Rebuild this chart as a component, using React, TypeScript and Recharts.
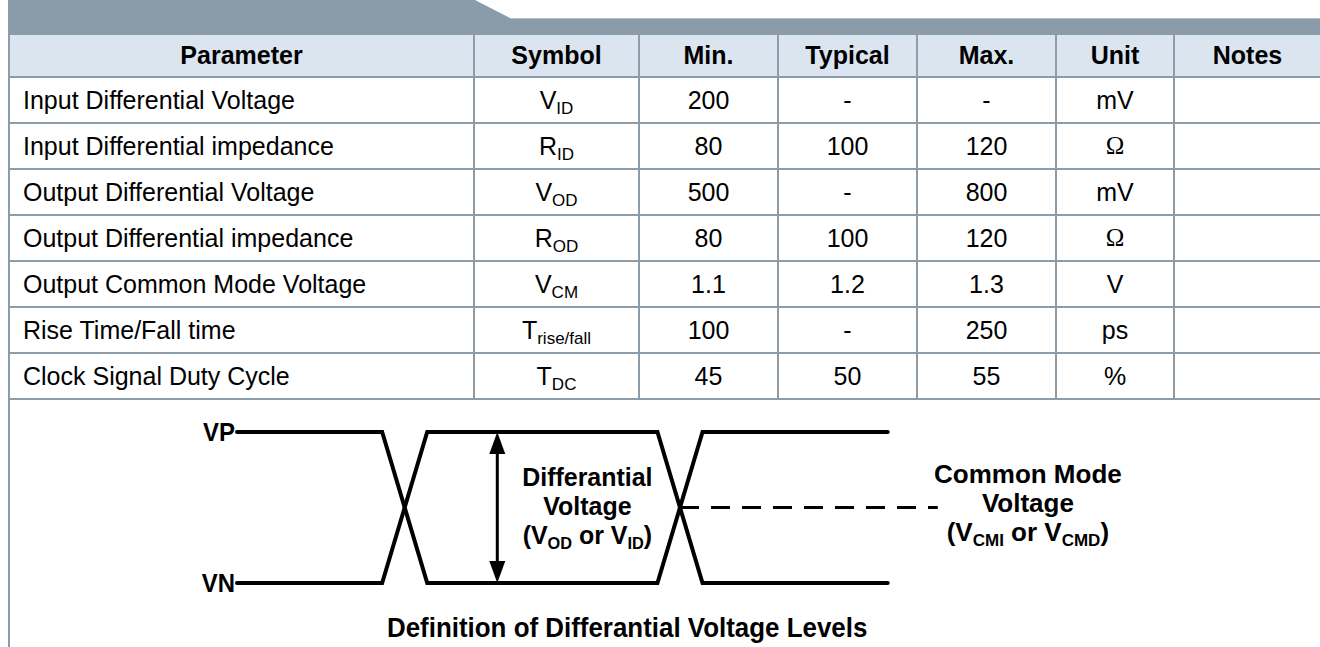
import React from 'react';
import { LineChart, Line, XAxis, YAxis, ReferenceLine, ReferenceDot } from 'recharts';

// table contents
const columns = ['Parameter', 'Symbol', 'Min.', 'Typical', 'Max.', 'Unit', 'Notes'];
const parameters = [
  'Input Differential Voltage',
  'Input Differential impedance',
  'Output Differential Voltage',
  'Output Differential impedance',
  'Output Common Mode Voltage',
  'Rise Time/Fall time',
  'Clock Signal Duty Cycle',
];
const symbolBase = ['V', 'R', 'V', 'R', 'V', 'T', 'T'];
const symbolSub = ['ID', 'ID', 'OD', 'OD', 'CM', 'rise/fall', 'DC'];
const minValues = ['200', '80', '500', '80', '1.1', '100', '45'];
const typValues = ['-', '100', '-', '100', '1.2', '-', '50'];
const maxValues = ['-', '120', '800', '120', '1.3', '250', '55'];
const units = ['mV', 'Ω', 'mV', 'Ω', 'V', 'ps', '%'];
const notes = ['', '', '', '', '', '', ''];

// waveform: time (arbitrary units) and normalised level (1 = high, 0 = low)
const edgeTimes = [0, 29, 38, 84, 93, 130];
const vpLevels = [1, 1, 0, 0, 1, 1];
const vnLevels = [0, 0, 1, 1, 0, 0];
const commonModeLevel = 0.5;
const commonModeSpan = [88.5, 140];
const arrowTime = 52;

const colEdges = [8, 473, 638, 777, 916, 1055, 1173, 1320];
const headerTop = 35;
const headerBottom = 76;
const rowH = 46;
const lineColor = '#8b9cab';
const sans = '"Liberation Sans", Arial, sans-serif';

const waveData = edgeTimes.map((t, i) => ({ t, vp: vpLevels[i], vn: vnLevels[i] }));

const ArrowShape = (props: any) => {
  const { x1, y1, y2 } = props;
  const top = Math.min(y1, y2);
  const bot = Math.max(y1, y2);
  const head = 22;
  const half = 8;
  return (
    <g>
      <line x1={x1} y1={top + head - 2} x2={x1} y2={bot - head + 2} stroke="#000" strokeWidth={3} />
      <polygon points={`${x1},${top} ${x1 - half},${top + head} ${x1 + half},${top + head}`} fill="#000" />
      <polygon points={`${x1},${bot} ${x1 - half},${bot - head} ${x1 + half},${bot - head}`} fill="#000" />
    </g>
  );
};

// condensed bold lettering used in the diagram
const MultiLabel = (props: any) => {
  const { viewBox, lines, size = 26, anchor = 'middle', dx = 0, squeeze = 0.95 } = props;
  const cx = viewBox.x + (viewBox.width || 0) / 2 + dx;
  const cy = viewBox.y + (viewBox.height || 0) / 2;
  const gap = 29;
  return (
    <g transform={`translate(${cx},0) scale(${squeeze},1) translate(${-cx},0)`}>
      {lines.map((ln: any[], i: number) => (
        <text
          key={i}
          x={cx}
          y={cy + (i - (lines.length - 1) / 2) * gap + size * 0.35}
          textAnchor={anchor}
          fontFamily={sans}
          fontWeight="bold"
          fontSize={size}
          fill="#000"
        >
          {ln.map((part, j) =>
            part.sub ? (
              <tspan key={j} fontSize={Math.round(size * 0.66)} dy={5}>{part.text}</tspan>
            ) : (
              <tspan key={j} dy={j > 0 && ln[j - 1].sub ? -5 : 0}>{part.text}</tspan>
            )
          )}
        </text>
      ))}
    </g>
  );
};

const diffLines = [
  [{ text: 'Differantial' }],
  [{ text: 'Voltage' }],
  [{ text: '(V' }, { text: 'OD', sub: true }, { text: ' or V' }, { text: 'ID', sub: true }, { text: ')' }],
];
const cmLines = [
  [{ text: 'Common Mode' }],
  [{ text: 'Voltage' }],
  [{ text: '(V' }, { text: 'CMI', sub: true }, { text: ' or V' }, { text: 'CMD', sub: true }, { text: ')' }],
];

function Cell({ col, top, height, children, bold, left }: any) {
  const x0 = colEdges[col] + 2;
  const x1 = colEdges[col + 1];
  return (
    <div
      style={{
        position: 'absolute',
        left: x0,
        top,
        width: x1 - x0,
        height,
        display: 'flex',
        alignItems: 'center',
        justifyContent: left ? 'flex-start' : 'center',
        paddingLeft: left ? 13 : 0,
        boxSizing: 'border-box',
        fontWeight: bold ? 'bold' : 'normal',
        fontSize: 25,
        whiteSpace: 'nowrap',
        color: '#000',
      }}
    >
      {children}
    </div>
  );
}

export default function App() {
  const tableBottom = headerBottom + rowH * parameters.length;
  const rows = parameters.map((p, i) => [
    p,
    <span key="s">
      {symbolBase[i]}
      <span style={{ fontSize: 17, position: 'relative', top: 5 }}>{symbolSub[i]}</span>
    </span>,
    minValues[i],
    typValues[i],
    maxValues[i],
    units[i] === 'Ω' ? <span key="u" style={{ fontFamily: '"Liberation Serif", serif' }}>{units[i]}</span> : units[i],
    notes[i],
  ]);
  const capX = 387;

  return (
    <div style={{ position: 'relative', width: 1320, height: 647, background: '#fff', fontFamily: sans, overflow: 'hidden' }}>
      <style>{'body{margin:0}'}</style>
      <svg width={1320} height={40} style={{ position: 'absolute', left: 0, top: 0 }}>
        <polygon points="8,0 475,0 510,18 1320,18 1320,35 8,35" fill="#8a9baa" />
        <line x1={510} y1={18.5} x2={1320} y2={18.5} stroke="#b3bfc9" strokeWidth={1} />
      </svg>
      <div style={{ position: 'absolute', left: 10, top: headerTop, width: 1310, height: headerBottom - headerTop, background: '#dbe5f0' }} />
      {columns.map((c, i) => (
        <Cell key={c} col={i} top={headerTop} height={headerBottom - headerTop} bold>
          {c}
        </Cell>
      ))}
      {rows.map((r, ri) =>
        r.map((v, ci) => (
          <Cell key={`${ri}-${ci}`} col={ci} top={headerBottom + 2 + ri * rowH} height={rowH - 2} left={ci === 0}>
            {v}
          </Cell>
        ))
      )}
      {parameters.map((_, i) => (
        <div key={`h${i}`} style={{ position: 'absolute', left: 8, top: headerBottom + i * rowH, width: 1312, height: 2, background: lineColor }} />
      ))}
      <div style={{ position: 'absolute', left: 8, top: tableBottom, width: 1312, height: 2, background: lineColor }} />
      {colEdges.slice(1, -1).map((x) => (
        <div key={`v${x}`} style={{ position: 'absolute', left: x, top: headerTop, width: 2, height: tableBottom - headerTop + 2, background: lineColor }} />
      ))}
      <div style={{ position: 'absolute', left: 8, top: headerTop, width: 2, height: 647 - headerTop, background: lineColor }} />

      <div style={{ position: 'absolute', left: 0, top: 400 }}>
        <LineChart width={1320} height={247} data={waveData} margin={{ top: 32, right: 182, bottom: 64, left: 237 }}>
          <XAxis dataKey="t" type="number" domain={[0, 180]} hide />
          <YAxis type="number" domain={[0, 1]} hide />
          <Line type="linear" dataKey="vp" stroke="#000" strokeWidth={4} dot={false} strokeLinecap="round" isAnimationActive={false} />
          <Line type="linear" dataKey="vn" stroke="#000" strokeWidth={4} dot={false} strokeLinecap="round" isAnimationActive={false} />
          <ReferenceLine
            segment={[{ x: commonModeSpan[0], y: commonModeLevel }, { x: commonModeSpan[1], y: commonModeLevel }]}
            stroke="#000"
            strokeWidth={3}
            strokeDasharray="19 12"
          />
          <ReferenceLine segment={[{ x: arrowTime, y: 0 }, { x: arrowTime, y: 1 }]} shape={ArrowShape} />
          <ReferenceDot x={0} y={1} r={0} fill="none" stroke="none" label={<MultiLabel lines={[[{ text: 'VP' }]]} size={26} anchor="end" dx={-2} squeeze={0.92} />} />
          <ReferenceDot x={0} y={0} r={0} fill="none" stroke="none" label={<MultiLabel lines={[[{ text: 'VN' }]]} size={26} anchor="end" dx={-2} squeeze={0.92} />} />
          <ReferenceDot x={70} y={0.51} r={0} fill="none" stroke="none" label={<MultiLabel lines={diffLines} size={26} squeeze={0.96} />} />
          <ReferenceDot x={158} y={0.53} r={0} fill="none" stroke="none" label={<MultiLabel lines={cmLines} size={26} squeeze={1} />} />
        </LineChart>
      </div>
      <svg width={1320} height={47} style={{ position: 'absolute', left: 0, top: 600 }}>
        <text
          x={capX}
          y={37}
          transform={`translate(${capX},0) scale(0.96,1) translate(${-capX},0)`}
          fontFamily={sans}
          fontWeight="bold"
          fontSize={27}
          fill="#000"
        >
          Definition of Differantial Voltage Levels
        </text>
      </svg>
    </div>
  );
}
